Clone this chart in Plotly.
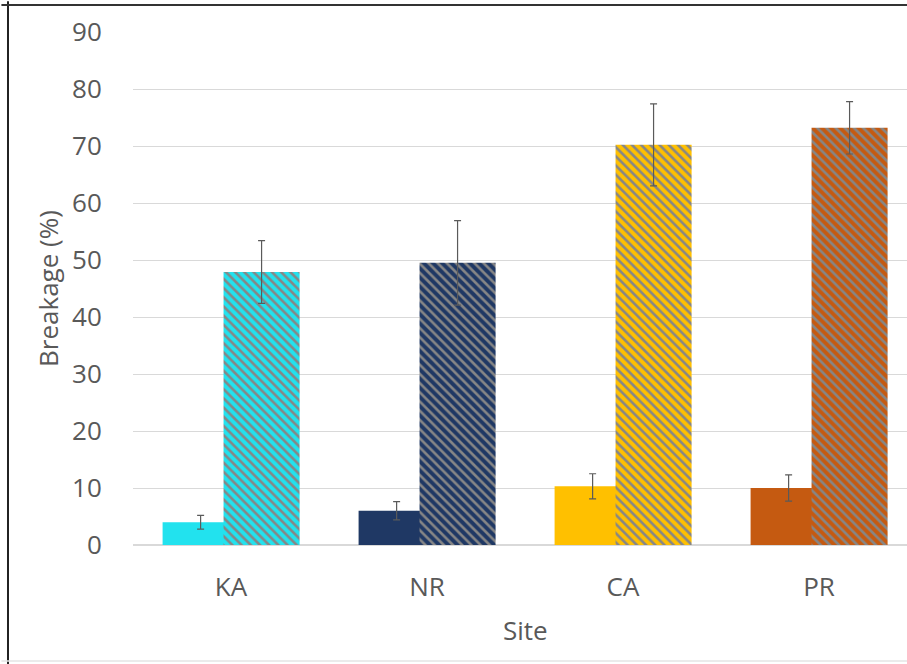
import plotly.graph_objects as go

# Breakage per site: solid = first treatment, hatched = second treatment
sites = ["KA", "NR", "CA", "PR"]
solid_vals = [4.0, 6.0, 10.3, 10.0]
solid_err = [1.2, 1.6, 2.2, 2.3]
hatched_vals = [47.9, 49.5, 70.2, 73.2]
hatched_err = [5.5, 7.4, 7.2, 4.6]
site_colors = ["#22E2EE", "#1F3864", "#FFC000", "#C55A11"]
y_ticks = [0, 10, 20, 30, 40, 50, 60, 70, 80, 90]

TEXT = "#595959"
GRID = "#D9D9D9"
FONT = "Open Sans"
FS = 26

bar_w = 0.388
err_style = dict(type="data", visible=True, color="#5A5A5A", thickness=1.2, width=3.5)

fig = go.Figure()
for i, site in enumerate(sites):
    fig.add_trace(go.Bar(
        x=[site], y=[solid_vals[i]],
        error_y=dict(array=[solid_err[i]], **err_style),
        width=bar_w, offset=-0.349,
        marker=dict(color=site_colors[i], line=dict(width=0)),
        showlegend=False, hoverinfo="skip",
    ))
for i, site in enumerate(sites):
    fig.add_trace(go.Bar(
        x=[site], y=[hatched_vals[i]],
        error_y=dict(array=[hatched_err[i]], **err_style),
        width=bar_w, offset=-0.038,
        marker=dict(
            color=site_colors[i], line=dict(width=0),
            pattern=dict(shape="\\", fgcolor="#868686", bgcolor=site_colors[i],
                         size=6.5, solidity=0.4, fillmode="replace"),
        ),
        showlegend=False, hoverinfo="skip",
    ))

# frame lines around the figure
fig.add_shape(type="line", xref="paper", yref="paper",
              x0=-0.1615, x1=-0.1615, y0=-0.25, y1=1.06,
              line=dict(color="#222222", width=2))
fig.add_shape(type="line", xref="paper", yref="paper",
              x0=-0.17, x1=1.01, y0=1.0526, y1=1.0526,
              line=dict(color="#333333", width=2))
fig.add_shape(type="line", xref="paper", yref="paper",
              x0=-0.17, x1=1.01, y0=-0.226, y1=-0.226,
              line=dict(color="#E4E4E4", width=1.5))

fig.add_annotation(text="Site", xref="paper", yref="paper",
                   x=0.5065, y=-0.165, showarrow=False,
                   xanchor="center", yanchor="middle",
                   font=dict(family=FONT, size=FS, color=TEXT))
fig.add_annotation(text="Breakage (%)", xref="paper", yref="paper",
                   x=-0.1105, y=0.5, showarrow=False, textangle=-90,
                   xanchor="center", yanchor="middle",
                   font=dict(family=FONT, size=FS, color=TEXT))

fig.update_layout(
    width=907, height=664,
    margin=dict(l=133, r=0, t=32, b=119),
    paper_bgcolor="white", plot_bgcolor="white",
    barmode="overlay",
    font=dict(family=FONT, size=FS, color=TEXT),
    xaxis=dict(
        type="category", categoryorder="array", categoryarray=sites,
        range=[-0.5, 3.449], showgrid=False, zeroline=False,
        showline=False, ticks="outside", ticklen=0,
        ticklabelstandoff=19,
        tickfont=dict(family=FONT, size=FS, color=TEXT),
    ),
    yaxis=dict(
        range=[0, 90], tickvals=y_ticks, showgrid=True, gridcolor=GRID,
        gridwidth=1, zeroline=True, zerolinecolor=GRID, zerolinewidth=1.5,
        showline=False, ticks="outside", ticklen=0, ticklabelstandoff=25,
        tickfont=dict(family=FONT, size=FS, color=TEXT),
    ),
)

fig.write_html("out.html")
